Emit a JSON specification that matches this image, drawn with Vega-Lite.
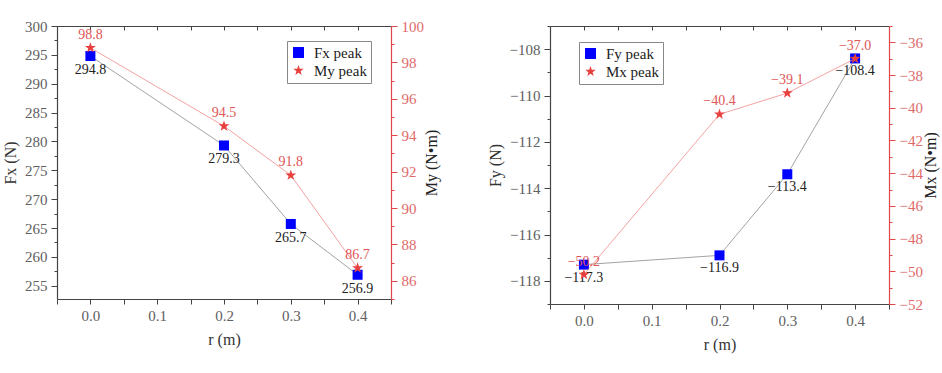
{
  "$schema": "https://vega.github.io/schema/vega-lite/v6.json",
  "background": "white",
  "padding": {"left": 2, "top": 19, "right": 2, "bottom": 2},
  "spacing": 47,
  "datasets": {
    "left": [
      {"r": 0.0, "series": "Fx peak", "value": 294.8},
      {"r": 0.2, "series": "Fx peak", "value": 279.3},
      {"r": 0.3, "series": "Fx peak", "value": 265.7},
      {"r": 0.4, "series": "Fx peak", "value": 256.9},
      {"r": 0.0, "series": "My peak", "value": 98.8},
      {"r": 0.2, "series": "My peak", "value": 94.5},
      {"r": 0.3, "series": "My peak", "value": 91.8},
      {"r": 0.4, "series": "My peak", "value": 86.7}
    ],
    "right": [
      {"r": 0.0, "series": "Fy peak", "value": -117.3},
      {"r": 0.2, "series": "Fy peak", "value": -116.9},
      {"r": 0.3, "series": "Fy peak", "value": -113.4},
      {"r": 0.4, "series": "Fy peak", "value": -108.4},
      {"r": 0.0, "series": "Mx peak", "value": -50.2},
      {"r": 0.2, "series": "Mx peak", "value": -40.4},
      {"r": 0.3, "series": "Mx peak", "value": -39.1},
      {"r": 0.4, "series": "Mx peak", "value": -37.0}
    ]
  },
  "hconcat": [
    {
      "width": 334,
      "height": 273,
      "data": {"name": "left"},
      "layer": [
        {
          "transform": [{"filter": "datum.series == 'Fx peak'"}],
          "encoding": {
            "x": {"field": "r", "type": "quantitative",
              "scale": {"domain": [-0.05, 0.45], "nice": false, "zero": false},
              "axis": {"orient": "bottom", "title": "r (m)", "titlePadding": 8, "values": [-0.05, 0, 0.05, 0.1, 0.15, 0.2, 0.25, 0.3, 0.35, 0.4, 0.45],
                "labelExpr": "abs(datum.value*10 - round(datum.value*10)) < 0.001 ? format(datum.value, '.1f') : ''"}},
            "y": {"field": "value", "type": "quantitative",
              "scale": {"domain": [252.7, 300], "nice": false, "zero": false},
              "axis": {"orient": "left", "title": "Fx (N)", "titleAngle": -90,
                "values": [255, 257.5, 260, 262.5, 265, 267.5, 270, 272.5, 275, 277.5, 280, 282.5, 285, 287.5, 290, 292.5, 295, 297.5, 300],
                "tickSize": {"condition": {"test": "datum.value % 5 == 0", "value": 6}, "value": 3},
                "labelExpr": "datum.value % 5 == 0 ? datum.label : ''"}}
          },
          "layer": [
            {"mark": {"type": "line", "color": "#8c8c8c", "strokeWidth": 0.8}},
            {"mark": {"type": "point", "filled": true, "opacity": 1, "size": 100},
              "encoding": {
                "color": {"field": "series", "type": "nominal", "scale": {"domain": ["Fx peak", "My peak"], "range": ["#0000ff", "#e8403f"]},
                  "legend": {"title": null, "orient": "none", "legendX": 230, "legendY": 15}},
                "shape": {"field": "series", "type": "nominal", "scale": {"domain": ["Fx peak", "My peak"], "range": ["square", "M0,-1L0.235,-0.324L0.951,-0.309L0.38,0.124L0.588,0.809L0,0.4L-0.588,0.809L-0.38,0.124L-0.951,-0.309L-0.235,-0.324Z"]},
                  "legend": {"title": null, "orient": "none", "legendX": 230, "legendY": 15}}
              }},
            {"mark": {"type": "text", "dy": 14, "color": "#222222", "font": "Liberation Serif", "fontSize": 14},
              "encoding": {"text": {"field": "value", "type": "quantitative", "format": ".1f"}}}
          ]
        },
        {
          "transform": [{"filter": "datum.series == 'My peak'"}],
          "encoding": {
            "x": {"field": "r", "type": "quantitative",
              "scale": {"domain": [-0.05, 0.45], "nice": false, "zero": false},
              "axis": {"orient": "top", "title": null, "labels": false, "tickSize": -4, "values": [-0.05, 0, 0.05, 0.1, 0.15, 0.2, 0.25, 0.3, 0.35, 0.4, 0.45]}},
            "y": {"field": "value", "type": "quantitative",
              "scale": {"domain": [85, 100], "nice": false, "zero": false},
              "axis": {"orient": "right", "title": "My (N•m)", "titleAngle": -90, "titlePadding": 16, "titleColor": "#222222",
                "domainColor": "#e0474a", "tickColor": "#e0474a", "labelColor": "#e06a6a",
                "values": [85, 86, 87, 88, 89, 90, 91, 92, 93, 94, 95, 96, 97, 98, 99, 100],
                "tickSize": {"condition": {"test": "datum.value % 2 == 0", "value": 6}, "value": 3},
                "labelExpr": "datum.value % 2 == 0 ? datum.label : ''"}}
          },
          "layer": [
            {"mark": {"type": "line", "color": "#f08a8a", "strokeWidth": 0.8}},
            {"mark": {"type": "point", "filled": true, "opacity": 1, "size": 130},
              "encoding": {
                "color": {"field": "series", "type": "nominal"},
                "shape": {"field": "series", "type": "nominal"}
              }},
            {"mark": {"type": "text", "dy": -13, "color": "#e05555", "font": "Liberation Serif", "fontSize": 14},
              "encoding": {"text": {"field": "value", "type": "quantitative", "format": ".1f"}}}
          ]
        }
      ],
      "resolve": {"scale": {"y": "independent"}, "axis": {"x": "independent", "y": "independent"}}
    },
    {
      "width": 339,
      "height": 278,
      "data": {"name": "right"},
      "layer": [
        {
          "transform": [{"filter": "datum.series == 'Fy peak'"}],
          "encoding": {
            "x": {"field": "r", "type": "quantitative",
              "scale": {"domain": [-0.05, 0.45], "nice": false, "zero": false},
              "axis": {"orient": "bottom", "title": "r (m)", "titlePadding": 8, "values": [-0.05, 0, 0.05, 0.1, 0.15, 0.2, 0.25, 0.3, 0.35, 0.4, 0.45],
                "labelExpr": "abs(datum.value*10 - round(datum.value*10)) < 0.001 ? format(datum.value, '.1f') : ''"}},
            "y": {"field": "value", "type": "quantitative",
              "scale": {"domain": [-119, -107], "nice": false, "zero": false},
              "axis": {"orient": "left", "title": "Fy (N)", "titleAngle": -90,
                "values": [-119, -118, -117, -116, -115, -114, -113, -112, -111, -110, -109, -108, -107],
                "tickSize": {"condition": {"test": "datum.value % 2 == 0", "value": 6}, "value": 3},
                "labelExpr": "datum.value % 2 == 0 ? datum.label : ''"}}
          },
          "layer": [
            {"mark": {"type": "line", "color": "#8c8c8c", "strokeWidth": 0.8}},
            {"mark": {"type": "point", "filled": true, "opacity": 1, "size": 100},
              "encoding": {
                "color": {"field": "series", "type": "nominal", "scale": {"domain": ["Fy peak", "Mx peak"], "range": ["#0000ff", "#e8403f"]},
                  "legend": {"title": null, "orient": "none", "legendX": 29, "legendY": 16}},
                "shape": {"field": "series", "type": "nominal", "scale": {"domain": ["Fy peak", "Mx peak"], "range": ["square", "M0,-1L0.235,-0.324L0.951,-0.309L0.38,0.124L0.588,0.809L0,0.4L-0.588,0.809L-0.38,0.124L-0.951,-0.309L-0.235,-0.324Z"]},
                  "legend": {"title": null, "orient": "none", "legendX": 29, "legendY": 16}}
              }},
            {"mark": {"type": "text", "dy": 13, "color": "#222222", "font": "Liberation Serif", "fontSize": 14},
              "encoding": {"text": {"field": "value", "type": "quantitative", "format": ".1f"}}}
          ]
        },
        {
          "transform": [{"filter": "datum.series == 'Mx peak'"}],
          "encoding": {
            "x": {"field": "r", "type": "quantitative",
              "scale": {"domain": [-0.05, 0.45], "nice": false, "zero": false},
              "axis": {"orient": "top", "title": null, "labels": false, "tickSize": -4, "values": [-0.05, 0, 0.05, 0.1, 0.15, 0.2, 0.25, 0.3, 0.35, 0.4, 0.45]}},
            "y": {"field": "value", "type": "quantitative",
              "scale": {"domain": [-52, -35], "nice": false, "zero": false},
              "axis": {"orient": "right", "title": "Mx (N•m)", "titleAngle": -90, "titlePadding": 16, "titleColor": "#222222",
                "domainColor": "#e0474a", "tickColor": "#e0474a", "labelColor": "#e06a6a",
                "values": [-52, -51, -50, -49, -48, -47, -46, -45, -44, -43, -42, -41, -40, -39, -38, -37, -36, -35],
                "tickSize": {"condition": {"test": "datum.value % 2 == 0", "value": 6}, "value": 3},
                "labelExpr": "datum.value % 2 == 0 ? datum.label : ''"}}
          },
          "layer": [
            {"mark": {"type": "line", "color": "#f08a8a", "strokeWidth": 0.8}},
            {"mark": {"type": "point", "filled": true, "opacity": 1, "size": 130},
              "encoding": {
                "color": {"field": "series", "type": "nominal"},
                "shape": {"field": "series", "type": "nominal"}
              }},
            {"mark": {"type": "text", "dy": -13, "color": "#e05555", "font": "Liberation Serif", "fontSize": 14},
              "encoding": {"text": {"field": "value", "type": "quantitative", "format": ".1f"}}}
          ]
        }
      ],
      "resolve": {"scale": {"y": "independent"}, "axis": {"x": "independent", "y": "independent"}}
    }
  ],
  "resolve": {"scale": {"color": "independent", "shape": "independent"}},
  "config": {
    "view": {"stroke": null},
    "axis": {
      "grid": false, "labelFont": "Liberation Serif", "labelFontSize": 15, "labelColor": "#606060",
      "titleFont": "Liberation Serif", "titleFontSize": 16, "titleFontWeight": "normal", "titleColor": "#333333",
      "domainColor": "#444444", "tickColor": "#444444", "tickSize": 5, "labelPadding": 4, "titlePadding": 6,
      "domainWidth": 1.2, "tickWidth": 1
    },
    "legend": {
      "labelFont": "Liberation Serif", "labelFontSize": 15, "labelColor": "#222222",
      "strokeColor": "#888888", "fillColor": "white", "padding": 4, "rowPadding": 2,
      "symbolSize": 120, "symbolStrokeWidth": 0, "labelOffset": 8
    }
  }
}
